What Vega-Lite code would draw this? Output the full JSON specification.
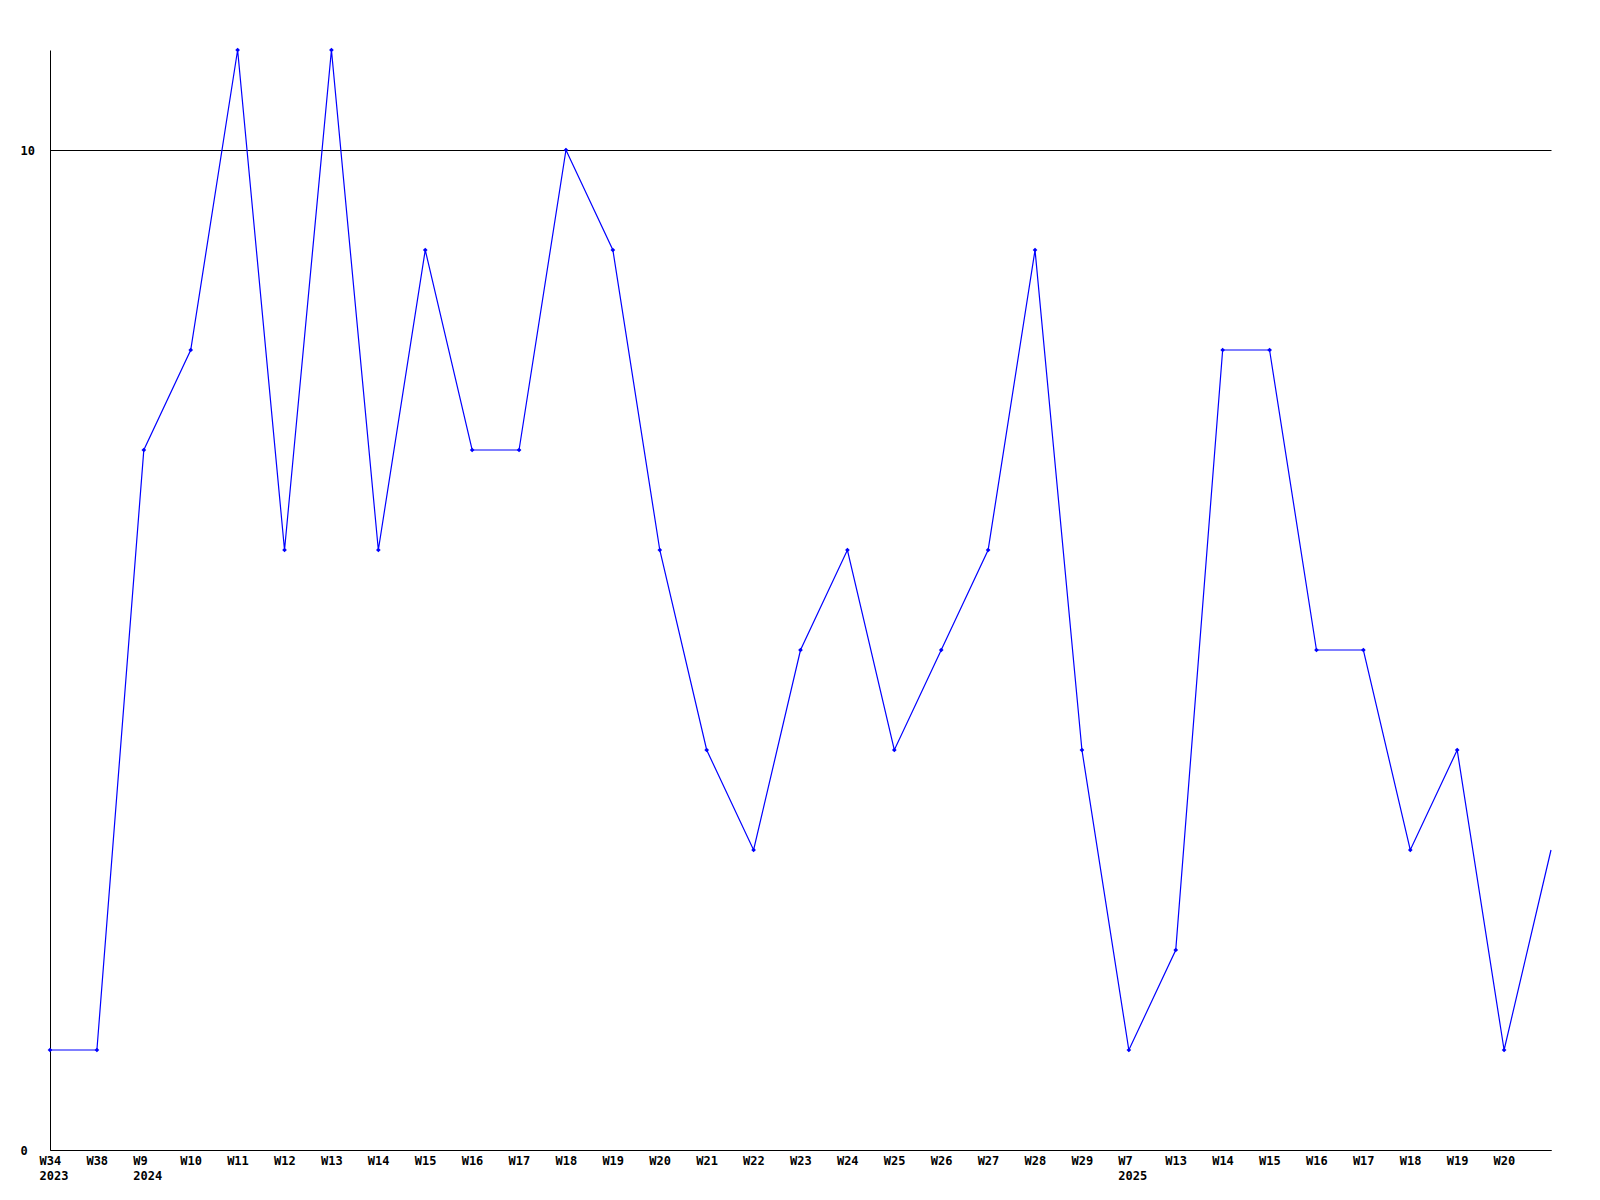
{
  "$schema": "https://vega.github.io/schema/vega-lite/v6.json",
  "autosize": {"type": "none"},
  "padding": {"left": 50, "top": 50, "right": 49, "bottom": 50},
  "width": 1501,
  "height": 1100,
  "background": "white",
  "config": {"view": {"stroke": null}},
  "data": {"values": [
    {"key": "2023-W34", "count": 1},
    {"key": "2023-W38", "count": 1},
    {"key": "2024-W9", "count": 7},
    {"key": "2024-W10", "count": 8},
    {"key": "2024-W11", "count": 11},
    {"key": "2024-W12", "count": 6},
    {"key": "2024-W13", "count": 11},
    {"key": "2024-W14", "count": 6},
    {"key": "2024-W15", "count": 9},
    {"key": "2024-W16", "count": 7},
    {"key": "2024-W17", "count": 7},
    {"key": "2024-W18", "count": 10},
    {"key": "2024-W19", "count": 9},
    {"key": "2024-W20", "count": 6},
    {"key": "2024-W21", "count": 4},
    {"key": "2024-W22", "count": 3},
    {"key": "2024-W23", "count": 5},
    {"key": "2024-W24", "count": 6},
    {"key": "2024-W25", "count": 4},
    {"key": "2024-W26", "count": 5},
    {"key": "2024-W27", "count": 6},
    {"key": "2024-W28", "count": 9},
    {"key": "2024-W29", "count": 4},
    {"key": "2025-W7", "count": 1},
    {"key": "2025-W13", "count": 2},
    {"key": "2025-W14", "count": 8},
    {"key": "2025-W15", "count": 8},
    {"key": "2025-W16", "count": 5},
    {"key": "2025-W17", "count": 5},
    {"key": "2025-W18", "count": 3},
    {"key": "2025-W19", "count": 4},
    {"key": "2025-W20", "count": 1},
    {"key": "2025-W21", "count": 3}
  ]},
  "encoding": {
    "x": {
      "field": "key", "type": "ordinal", "sort": null,
      "scale": {"type": "point", "padding": 0},
      "axis": {
        "title": null, "ticks": false, "domainColor": "black", "domainWidth": 1,
        "labelAngle": 0, "labelAlign": "left", "labelBaseline": "top", "labelOffset": -11,
        "labelPadding": 5, "labelFont": "DejaVu Sans Mono", "labelFontWeight": "bold",
        "labelFontSize": 12, "labelColor": "black", "labelLineHeight": 15, "labelOverlap": false,
        "labelExpr": "datum.label == '2025-W21' ? '' : (indexof(['2023-W34','2024-W9','2025-W7'], datum.label) >= 0 ? [split(datum.label,'-')[1], split(datum.label,'-')[0]] : split(datum.label,'-')[1])"
      }
    },
    "y": {
      "field": "count", "type": "quantitative",
      "scale": {"domain": [0, 11], "nice": false, "zero": true},
      "axis": {
        "title": null, "values": [0, 10], "ticks": false, "grid": true, "gridColor": "black",
        "gridOpacity": 1, "gridWidth": 1, "domainColor": "black",
        "labelAlign": "left", "labelBaseline": "middle", "labelPadding": 30,
        "labelFont": "DejaVu Sans Mono", "labelFontWeight": "bold", "labelFontSize": 12,
        "labelColor": "black"
      }
    }
  },
  "layer": [
    {"mark": {"type": "line", "color": "#0000ff", "strokeWidth": 1.2}},
    {
      "transform": [{"filter": "datum.key != '2025-W21'"}],
      "mark": {"type": "point", "shape": "diamond", "filled": true, "color": "#0000ff", "size": 22, "opacity": 1}
    }
  ]
}
